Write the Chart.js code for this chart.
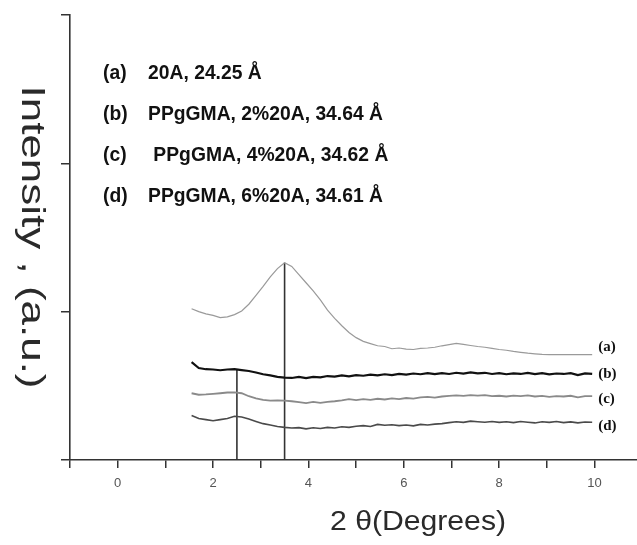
<!DOCTYPE html>
<html>
<head>
<meta charset="utf-8">
<script src="https://cdn.jsdelivr.net/npm/chart.js@4.4.1/dist/chart.umd.min.js"></script>
<style>
  html, body { margin: 0; padding: 0; background: #fff; }
  #wrap { width: 637px; height: 545px; }
</style>
</head>
<body>
<div id="wrap"><canvas id="myChart"></canvas></div>
<script>
// 2 theta positions shared by all four scans
var twoTheta = [1.55, 1.7, 1.85, 2.0, 2.15, 2.3, 2.45, 2.6, 2.75, 2.9,
  3.05, 3.2, 3.35, 3.5, 3.65, 3.8, 3.95, 4.1, 4.25, 4.4,
  4.55, 4.7, 4.85, 5.0, 5.15, 5.3, 5.45, 5.6, 5.75, 5.9,
  6.05, 6.2, 6.35, 6.5, 6.65, 6.8, 6.95, 7.1, 7.25, 7.4,
  7.55, 7.7, 7.85, 8.0, 8.15, 8.3, 8.45, 8.6, 8.75, 8.9,
  9.05, 9.2, 9.35, 9.5, 9.65, 9.8, 9.95];

var scanA = [1.02, 1.00, 0.985, 0.975, 0.96, 0.965, 0.98, 1.005, 1.05, 1.11,
  1.17, 1.235, 1.29, 1.33, 1.305, 1.25, 1.195, 1.14, 1.08, 1.01,
  0.955, 0.905, 0.86, 0.825, 0.80, 0.785, 0.77, 0.765, 0.75, 0.755,
  0.748, 0.745, 0.752, 0.755, 0.76, 0.77, 0.778, 0.786, 0.78, 0.772,
  0.765, 0.76, 0.752, 0.745, 0.74, 0.732, 0.726, 0.72, 0.716, 0.712,
  0.71, 0.71, 0.71, 0.71, 0.71, 0.71, 0.71];

var scanB = [0.66, 0.62, 0.612, 0.61, 0.605, 0.61, 0.612, 0.606, 0.60, 0.59,
  0.578, 0.57, 0.56, 0.555, 0.553, 0.56, 0.552, 0.56, 0.557, 0.566,
  0.562, 0.57, 0.564, 0.572, 0.568, 0.575, 0.57, 0.578, 0.572, 0.58,
  0.575, 0.583, 0.578, 0.585, 0.579, 0.586, 0.58, 0.588, 0.583, 0.59,
  0.584, 0.588, 0.58, 0.586, 0.578, 0.584, 0.58, 0.587, 0.579, 0.585,
  0.577, 0.583, 0.58, 0.586, 0.572, 0.584, 0.58];

var scanC = [0.45, 0.44, 0.442, 0.446, 0.45, 0.455, 0.456, 0.45, 0.43, 0.415,
  0.405, 0.40, 0.402, 0.40, 0.396, 0.39, 0.384, 0.392, 0.385, 0.392,
  0.396, 0.402, 0.41, 0.404, 0.41, 0.406, 0.413, 0.408, 0.415, 0.41,
  0.418, 0.414, 0.422, 0.425, 0.42, 0.428, 0.432, 0.436, 0.432, 0.438,
  0.434, 0.437, 0.43, 0.433, 0.428, 0.434, 0.43, 0.435, 0.428, 0.432,
  0.426, 0.431, 0.428, 0.433, 0.422, 0.43, 0.43];

var scanD = [0.30, 0.28, 0.272, 0.265, 0.272, 0.28, 0.295, 0.29, 0.276, 0.26,
  0.245, 0.236, 0.226, 0.22, 0.216, 0.218, 0.21, 0.217, 0.212, 0.22,
  0.216, 0.224, 0.22, 0.228, 0.232, 0.226, 0.24, 0.234, 0.238, 0.232,
  0.236, 0.23, 0.24, 0.236, 0.242, 0.245, 0.252, 0.258, 0.254, 0.262,
  0.258, 0.255, 0.26, 0.254, 0.258, 0.252, 0.26, 0.255, 0.25, 0.258,
  0.254, 0.26, 0.252, 0.257, 0.25, 0.256, 0.255];

// d-spacing marker lines (2 theta, top intensity)
var markerX = [2.5, 3.5];
var markerTop = [0.61, 1.33];

var xTickValues = [-1, 0, 1, 2, 3, 4, 5, 6, 7, 8, 9, 10];
var seriesTags = ['(a)', '(b)', '(c)', '(d)'];
var legendLines = ['(a)', '(b)', '(c)', '(d)'];
var legendTexts = ['20A, 24.25 Å', 'PPgGMA, 2%20A, 34.64 Å', ' PPgGMA, 4%20A, 34.62 Å', 'PPgGMA, 6%20A, 34.61 Å'];
var xTitle = '2 θ(Degrees)';
var yTitle = 'Intensity , (a.u.)';

function pts(ys) {
  return twoTheta.map(function (x, i) { return { x: x, y: ys[i] }; });
}

// draw text squeezed/stretched horizontally to a given width
function fitText(ctx, text, cx, cy, width) {
  var w = ctx.measureText(text).width;
  ctx.save();
  ctx.translate(cx, cy);
  ctx.scale(width / w, 1);
  ctx.textAlign = 'center';
  ctx.fillText(text, 0, 0);
  ctx.restore();
}

var textPlugin = {
  id: 'texts',
  afterDraw: function (chart) {
    var ctx = chart.ctx;
    var xs = chart.scales.x, ys = chart.scales.y;
    ctx.save();
    // axis titles
    ctx.fillStyle = '#2a2a2a';
    ctx.textBaseline = 'middle';
    ctx.font = '27px "Liberation Sans", Arial, sans-serif';
    fitText(ctx, xTitle, 418, 523, 176);
    ctx.save();
    ctx.translate(31, 237);
    ctx.rotate(Math.PI / 2);
    ctx.font = '34px "Liberation Sans", Arial, sans-serif';
    fitText(ctx, yTitle, 0, 0, 303);
    ctx.restore();

    // legend block
    ctx.fillStyle = '#111';
    ctx.font = 'bold 21px "Liberation Sans", Arial, sans-serif';
    ctx.textAlign = 'left';
    var sq = 235 / ctx.measureText(legendTexts[1]).width;
    for (var i = 0; i < legendLines.length; i++) {
      var ty = 73 + i * 41;
      ctx.save();
      ctx.translate(103, ty);
      ctx.scale(sq, 1);
      ctx.fillText(legendLines[i], 0, 0);
      ctx.fillText(legendTexts[i], 45 / sq, 0);
      ctx.restore();
    }

    // series tags at right end
    var scans = [scanA, scanB, scanC, scanD];
    var offs = [-8, 0, 3, 4];
    ctx.font = 'bold 15px "Liberation Serif", "Times New Roman", serif';
    for (var j = 0; j < scans.length; j++) {
      var last = scans[j][scans[j].length - 1];
      var px = xs.getPixelForValue(twoTheta[twoTheta.length - 1]) + 6;
      var py = ys.getPixelForValue(last) + offs[j];
      ctx.fillText(seriesTags[j], px, py);
    }
    ctx.restore();
  }
};

var datasets = [
  { data: pts(scanA), borderColor: '#9a9a9a', borderWidth: 1.2 },
  { data: pts(scanB), borderColor: '#111111', borderWidth: 2.2 },
  { data: pts(scanC), borderColor: '#8a8a8a', borderWidth: 1.8 },
  { data: pts(scanD), borderColor: '#4a4a4a', borderWidth: 1.6 }
];
markerX.forEach(function (mx, i) {
  datasets.push({ data: [{ x: mx, y: 0 }, { x: mx, y: markerTop[i] }], borderColor: '#333', borderWidth: 1.6 });
});
datasets.forEach(function (d) { d.pointRadius = 0; d.tension = 0; d.fill = false; });

var ctx = document.getElementById('myChart').getContext('2d');
var chart = new Chart(ctx, {
  type: 'line',
  data: { datasets: datasets },
  options: {
    responsive: true,
    maintainAspectRatio: false,
    animation: false,
    layout: { padding: { top: 15, right: 0, left: 0, bottom: 0 } },
    plugins: { legend: { display: false }, tooltip: { enabled: false } },
    scales: {
      x: {
        type: 'linear',
        min: -1,
        max: 10.89,
        afterBuildTicks: function (scale) {
          scale.ticks = xTickValues.map(function (v) { return { value: v }; });
        },
        afterFit: function (scale) { scale.height = 85; },
        ticks: {
          autoSkip: false,
          maxRotation: 0,
          padding: 8,
          color: '#555',
          font: { family: '"Liberation Sans", Arial, sans-serif', size: 13 },
          callback: function (v) { return v % 2 === 0 ? v : ''; }
        },
        grid: { drawOnChartArea: false, drawTicks: true, tickLength: 8, color: '#333', lineWidth: 1.5 },
        border: { display: true, color: '#333', width: 1.6 }
      },
      y: {
        type: 'linear',
        min: 0,
        max: 3,
        afterFit: function (scale) { scale.width = 70; },
        ticks: { stepSize: 1, display: false },
        grid: { drawOnChartArea: false, drawTicks: true, tickLength: 9, color: '#333', lineWidth: 1.5 },
        border: { display: true, color: '#333', width: 1.6 }
      }
    }
  },
  plugins: [textPlugin]
});
</script>
</body>
</html>
